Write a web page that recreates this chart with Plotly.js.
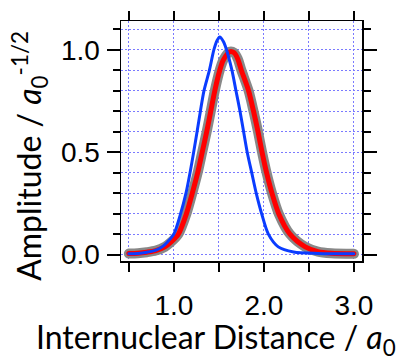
<!DOCTYPE html>
<html>
<head>
<meta charset="utf-8">
<script src="https://cdn.plot.ly/plotly-3.0.1.min.js"></script>
<style>
html,body{margin:0;padding:0;background:#fff;}
#chart{width:403px;height:356px;}
.scatterlayer .js-line{stroke-linecap:round !important;stroke-linejoin:round !important;}
</style>
</head>
<body>
<div id="chart"></div>
<script>
// Red / gray curve
const exactX = [0.50, 0.60, 0.70, 0.80, 0.90, 0.97, 1.05, 1.14, 1.205, 1.265, 1.315, 1.365, 1.41, 1.455, 1.51, 1.55, 1.62, 1.67, 1.71, 1.75, 1.83, 1.885, 1.935, 1.98, 2.03, 2.09, 2.165, 2.29, 2.46, 2.60, 2.75, 3.00];
const exactY = [0.005, 0.007, 0.012, 0.020, 0.038, 0.062, 0.10, 0.20, 0.30, 0.40, 0.50, 0.60, 0.70, 0.80, 0.90, 0.95, 0.99, 0.985, 0.955, 0.90, 0.80, 0.70, 0.60, 0.50, 0.40, 0.30, 0.20, 0.10, 0.038, 0.015, 0.007, 0.004];
// Blue curve
const approxX = [0.50, 0.60, 0.70, 0.80, 0.87, 0.93, 1.00, 1.075, 1.135, 1.18, 1.22, 1.258, 1.295, 1.335, 1.395, 1.445, 1.48, 1.51, 1.55, 1.585, 1.645, 1.69, 1.735, 1.775, 1.815, 1.865, 1.915, 1.975, 2.05, 2.16, 2.33, 2.60, 3.00];
const approxY = [0.004, 0.006, 0.012, 0.022, 0.038, 0.062, 0.10, 0.20, 0.30, 0.40, 0.50, 0.60, 0.70, 0.80, 0.90, 1.00, 1.045, 1.062, 1.04, 1.00, 0.90, 0.80, 0.70, 0.60, 0.50, 0.40, 0.30, 0.20, 0.10, 0.038, 0.013, 0.006, 0.004];

const xTickVals = [0.5, 1.0, 1.5, 2.0, 2.5, 3.0];
const xTickText = ['', '1.0', '', '2.0', '', '3.0'];

const gridColor = '#7a7aff';
const titleFont = {family: 'Lato', size: 32, color: '#000'};

const traces = [
  {x: exactX, y: exactY, mode: 'lines', line: {color: '#888888', width: 10, shape: 'spline', smoothing: 0.8}, hoverinfo: 'skip'},
  {x: exactX, y: exactY, mode: 'lines', line: {color: '#ff0000', width: 5, shape: 'spline', smoothing: 0.8}, hoverinfo: 'skip'},
  {x: approxX, y: approxY, mode: 'lines', line: {color: '#0a3cff', width: 3, shape: 'spline', smoothing: 0.8}, hoverinfo: 'skip'}
];

const layout = {
  width: 403, height: 356,
  margin: {l: 121, r: 41, t: 21, b: 95},
  paper_bgcolor: '#fff', plot_bgcolor: '#fff',
  showlegend: false,
  xaxis: {
    range: [0.413, 3.09],
    tickmode: 'array', tickvals: xTickVals, ticktext: xTickText,
    ticks: 'outside', ticklen: 9, tickwidth: 2, tickcolor: '#000',
    showline: true, linecolor: '#000', linewidth: 1.5, mirror: 'ticks',
    showgrid: true, gridcolor: gridColor, griddash: '2px,2px', gridwidth: 1,
    zeroline: false,
    tickfont: {family: 'Liberation Sans', size: 28, color: '#000'}, ticklabelstandoff: 10
  },
  yaxis: {
    range: [-0.031, 1.14],
    tick0: 0, dtick: 0.5, tickformat: '.1f',
    ticks: 'outside', ticklen: 13, tickwidth: 2, tickcolor: '#000',
    showline: true, linecolor: '#000', linewidth: 1.5, mirror: 'ticks',
    showgrid: true, gridcolor: gridColor, griddash: '2px,2px', gridwidth: 1,
    zeroline: false,
    minor: {tick0: 0, dtick: 0.1, ticks: 'outside', ticklen: 7, tickwidth: 2, tickcolor: '#000',
            showgrid: true, gridcolor: gridColor, griddash: '2px,2px', gridwidth: 1},
    tickfont: {family: 'Liberation Sans', size: 28, color: '#000'}, ticklabelstandoff: 1
  },
  annotations: [
    {text: 'Internuclear Distance / <i>a</i><sub>0</sub>', xref: 'paper', yref: 'paper',
     x: 0.394, y: -0.327, xanchor: 'center', yanchor: 'middle', showarrow: false, font: titleFont},
    {text: 'Amplitude / <i>a</i><sub>0</sub><sup>-1/2</sup>', xref: 'paper', yref: 'paper',
     x: -0.38, y: 0.44, xanchor: 'center', yanchor: 'middle', textangle: -90, showarrow: false, font: titleFont}
  ]
};

Plotly.newPlot('chart', traces, layout, {staticPlot: true, displayModeBar: false});
</script>
</body>
</html>
